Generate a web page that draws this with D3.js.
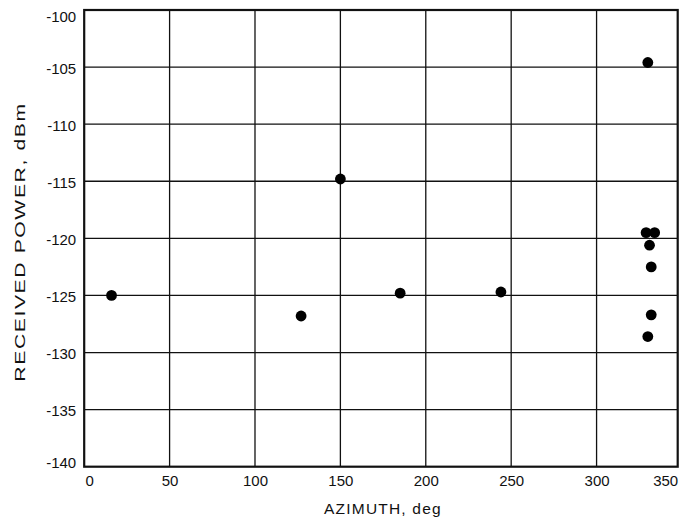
<!DOCTYPE html>
<html>
<head>
<meta charset="utf-8">
<script src="https://cdn.jsdelivr.net/npm/d3@7"></script>
<style>
  body { margin: 0; background: #fff; }
  svg { display: block; font-family: "Liberation Sans", Arial, sans-serif; }
  .grid line { stroke: #111; stroke-width: 1.3; }
  .axis text { font-size: 15px; fill: #111; }
  .axis path, .axis line { display: none; }
  .title { font-size: 15.5px; fill: #111; letter-spacing: 1.2px; }
</style>
</head>
<body>
<div id="chart"></div>
<script>
// values
const azimuth = [16, 127, 150, 185, 244, 330, 329, 334, 331, 332, 332, 330];
const power = [-125, -126.8, -114.8, -124.8, -124.7, -104.6, -119.5, -119.5, -120.6, -122.5, -126.7, -128.6];
const xTicks = [0, 50, 100, 150, 200, 250, 300, 350];
const yTicks = [-100, -105, -110, -115, -120, -125, -130, -135, -140];

const W = 686, H = 527;
const margin = {top: 10, right: 8.3, bottom: 60.3, left: 84.2};
const width = W - margin.left - margin.right;
const height = H - margin.top - margin.bottom;

const svg = d3.select('#chart').append('svg')
  .attr('width', W)
  .attr('height', H);

const g = svg.append('g')
  .attr('transform', 'translate(' + margin.left + ',' + margin.top + ')');

// axis stops a little short of 350
const x = d3.scaleLinear().domain([0, 347.5]).range([0, width]);
const y = d3.scaleLinear().domain([-140, -100]).range([height, 0]);

// grid
const grid = g.append('g').attr('class', 'grid');
grid.selectAll('.gx')
  .data(xTicks.filter(function(d) { return d > 0 && d < 347.5; }))
  .enter().append('line')
  .attr('x1', d => x(d)).attr('x2', d => x(d))
  .attr('y1', 0).attr('y2', height);
grid.selectAll('.gy')
  .data(yTicks.filter(function(d) { return d > -140 && d < -100; }))
  .enter().append('line')
  .attr('x1', 0).attr('x2', width)
  .attr('y1', d => y(d)).attr('y2', d => y(d));

g.append('rect')
  .attr('width', width)
  .attr('height', height)
  .attr('fill', 'none')
  .attr('stroke', '#111')
  .attr('stroke-width', 2.2);

// axes (labels only), plain hyphen for the minus sign
const fmt = d => String(d);

const xAxis = g.append('g')
  .attr('class', 'axis')
  .attr('transform', 'translate(0,' + height + ')')
  .call(d3.axisBottom(x).tickValues(xTicks).tickFormat(fmt).tickSize(0).tickPadding(9));
xAxis.selectAll('.tick text')
  .filter(d => d === 350)
  .attr('text-anchor', 'end')
  .attr('x', x(347.5) - x(350));
xAxis.selectAll('.tick text')
  .filter(d => d === 0)
  .attr('x', 5);
xAxis.selectAll('.tick text')
  .attr('dy', '0.71em');

const yAxis = g.append('g')
  .attr('class', 'axis')
  .call(d3.axisLeft(y).tickValues(yTicks).tickFormat(fmt).tickSize(0).tickPadding(8));
yAxis.selectAll('.tick text')
  .attr('x', -8)
  .attr('dy', function(d) {
    if (d === -100) return '0.75em';
    if (d === -140) return '0.05em';
    return '0.4em';
  });

// titles
svg.append('text')
  .attr('class', 'title')
  .attr('x', margin.left + width / 2 + 2)
  .attr('y', 514)
  .attr('text-anchor', 'middle')
  .text('AZIMUTH, deg');

// the y title is stretched along its length in the original
svg.append('text')
  .attr('class', 'title')
  .attr('transform', 'translate(25,' + 242 + ') rotate(-90) scale(1.36,1)')
  .attr('text-anchor', 'middle')
  .text('RECEIVED POWER, dBm');

// points
g.selectAll('.dot')
  .data(azimuth.map((a, i) => ({a: a, p: power[i]})))
  .enter().append('circle')
  .attr('class', 'dot')
  .attr('cx', d => x(d.a))
  .attr('cy', d => y(d.p))
  .attr('r', 5.4)
  .attr('fill', '#000');
</script>
</body>
</html>
